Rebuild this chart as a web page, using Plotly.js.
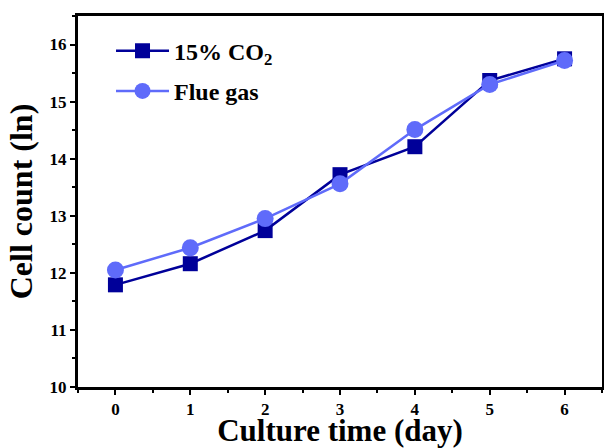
<!DOCTYPE html>
<html>
<head>
<meta charset="utf-8">
<script src="https://cdn.plot.ly/plotly-3.0.1.min.js"></script>
<style>html,body{margin:0;padding:0;background:#fff;}#chart{width:604px;height:448px;}</style>
</head>
<body>
<div id="chart"></div>
<script>
const days = [0, 1, 2, 3, 4, 5, 6];
const co2Values = [11.79, 12.16, 12.74, 13.72, 14.21, 15.37, 15.75];
const flueValues = [12.05, 12.44, 12.95, 13.56, 14.51, 15.30, 15.72];
const seriesNames = ['15% CO<sub>2</sub>', 'Flue gas'];

const fontFam = '"Liberation Serif", "Times New Roman", serif';

const traces = [
  {
    x: days, y: co2Values, name: seriesNames[0], type: 'scatter', mode: 'lines+markers',
    legendgroup: 'a',
    line: {color: '#000099', width: 2.5},
    marker: {symbol: 'square', size: 15, color: '#000099'}
  },
  {
    x: days, y: flueValues, name: seriesNames[1], type: 'scatter', mode: 'lines+markers',
    legendgroup: 'b',
    line: {color: '#5F6BFA', width: 2.5},
    marker: {symbol: 'circle', size: 17, color: '#5F6BFA'}
  }
];

const axisCommon = {
  showline: true, mirror: true, linecolor: '#000', linewidth: 3,
  ticks: 'outside', ticklen: 5, tickwidth: 2, tickcolor: '#000',
  showgrid: false, zeroline: false,
  tickfont: {family: fontFam, size: 17, color: '#000', weight: 'bold'}
};

const layout = {
  width: 604, height: 448,
  margin: {l: 78, r: 2, t: 16, b: 61},
  paper_bgcolor: '#fff', plot_bgcolor: '#fff',
  showlegend: true,
  legend: {
    x: 0.063, y: 0.966, xanchor: 'left', yanchor: 'top',
    bgcolor: 'rgba(0,0,0,0)',
    font: {family: fontFam, size: 24, color: '#000', weight: 'bold'},
    itemwidth: 53,
    tracegroupgap: 6
  },
  xaxis: Object.assign({}, axisCommon, {
    range: [-0.5, 6.5], tickvals: days, ticktext: days.map(String),
    minor: {ticks: 'outside', ticklen: 3, tickwidth: 2, tickcolor: '#000', dtick: 0.5, tick0: 0.5},
    title: {text: 'Culture time (day)', standoff: 4,
      font: {family: fontFam, size: 31, color: '#000', weight: 'bold'}}
  }),
  yaxis: Object.assign({}, axisCommon, {
    range: [10, 16.5], dtick: 1, tick0: 10,
    minor: {ticks: 'outside', ticklen: 3, tickwidth: 2, tickcolor: '#000', dtick: 0.5},
    title: {text: 'Cell count (ln)', standoff: 8,
      font: {family: fontFam, size: 32, color: '#000', weight: 'bold'}}
  })
};

Plotly.newPlot('chart', traces, layout, {displayModeBar: false, staticPlot: true});
</script>
</body>
</html>
